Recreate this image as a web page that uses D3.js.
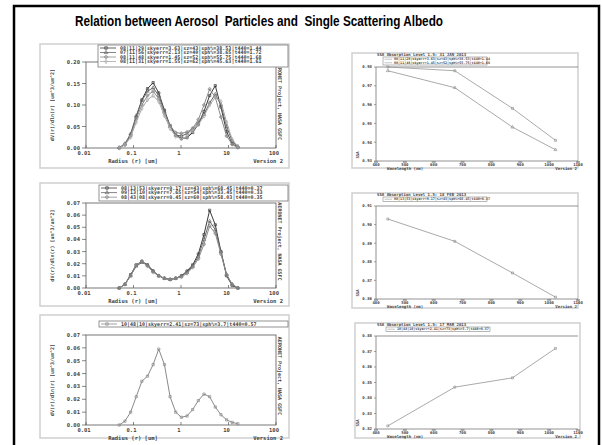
<!DOCTYPE html>
<html>
<head>
<meta charset="utf-8">
<script src="https://cdn.jsdelivr.net/npm/d3@7"></script>
<style>
  body { margin: 0; background: #fff; }
  svg { display: block; }
  .mono { font-family: "DejaVu Sans Mono", monospace; font-weight: bold; fill: #444; }
</style>
</head>
<body>
<svg id="chart" width="602" height="445"></svg>
<script>
// ---- data ----
var title = 'Relation between Aerosol  Particles and  Single Scattering Albedo';

// AERONET radius bins (um)
var radius = [0.050, 0.066, 0.087, 0.114, 0.150, 0.197, 0.259, 0.340, 0.448, 0.589, 0.774,
              1.018, 1.339, 1.761, 2.316, 3.046, 4.006, 5.269, 6.929, 9.113, 11.984, 15.761];
var radiusTicks = [0.01, 0.1, 1, 10, 100];

// panel 1 : four size distributions
var psd1_a = [0.000, 0.008, 0.030, 0.072, 0.112, 0.138, 0.152, 0.128, 0.088, 0.052, 0.030, 0.022, 0.024, 0.036, 0.055, 0.085, 0.122, 0.145, 0.095, 0.038, 0.010, 0.002];
var psd1_b = [0.001, 0.010, 0.033, 0.075, 0.110, 0.132, 0.140, 0.122, 0.085, 0.050, 0.030, 0.028, 0.033, 0.044, 0.058, 0.078, 0.105, 0.125, 0.100, 0.050, 0.016, 0.003];
var psd1_c = [0.000, 0.008, 0.028, 0.068, 0.100, 0.122, 0.132, 0.115, 0.080, 0.052, 0.036, 0.034, 0.037, 0.046, 0.066, 0.100, 0.137, 0.118, 0.072, 0.028, 0.008, 0.001];
var psd1_d = [0.000, 0.007, 0.025, 0.060, 0.092, 0.112, 0.122, 0.108, 0.075, 0.045, 0.027, 0.021, 0.026, 0.040, 0.054, 0.074, 0.100, 0.118, 0.108, 0.060, 0.020, 0.004];
var psd1_labels = ['08|11|29|skyerr=3.63|sz=43|sph%=38.53|t440=1.44',
                   '07|11|56|skyerr=2.13|sz=40|sph%=38.65|t440=1.72',
                   '08|11|48|skyerr=1.45|sz=52|sph%=55.75|t440=1.68',
                   '08|11|31|skyerr=1.55|sz=62|sph%=45.63|t440=1.61'];
var psd1_ticks = [0, 0.05, 0.10, 0.15, 0.20];

// panel 2 : three size distributions
var psd2_a = [0.000, 0.003, 0.011, 0.019, 0.022, 0.019, 0.014, 0.010, 0.008, 0.007, 0.008, 0.010, 0.014, 0.019, 0.028, 0.044, 0.064, 0.052, 0.030, 0.010, 0.002, 0.000];
var psd2_b = [0.000, 0.003, 0.010, 0.018, 0.021, 0.019, 0.014, 0.010, 0.008, 0.007, 0.008, 0.010, 0.013, 0.018, 0.026, 0.040, 0.055, 0.048, 0.030, 0.011, 0.003, 0.000];
var psd2_c = [0.000, 0.003, 0.010, 0.019, 0.022, 0.018, 0.013, 0.010, 0.008, 0.007, 0.008, 0.009, 0.012, 0.017, 0.024, 0.036, 0.051, 0.045, 0.028, 0.011, 0.003, 0.000];
var psd2_labels = ['08|13|53|skyerr=9.17|sz=43|sph%=68.45|t440=0.37',
                   '09|13|10|skyerr=7.65|sz=54|sph%=33.45|t440=0.33',
                   '08|43|08|skyerr=9.45|sz=60|sph%=58.03|t440=0.35'];
var psd2_ticks = [0, 0.01, 0.02, 0.03, 0.04, 0.05, 0.06, 0.07];

// panel 3 : one size distribution
var psd3_a = [0.000, 0.003, 0.010, 0.022, 0.034, 0.038, 0.047, 0.059, 0.047, 0.022, 0.010, 0.006, 0.007, 0.012, 0.019, 0.024, 0.022, 0.014, 0.008, 0.004, 0.002, 0.001];
var psd3_labels = ['10|48|10|skyerr=2.41|sz=73|sph%=3.7|t440=0.57'];
var psd3_ticks = [0, 0.01, 0.02, 0.03, 0.04, 0.05, 0.06, 0.07];

// single scattering albedo panels
var wavelength = [441, 673, 873, 1022];
var wlTicks = [400, 500, 600, 700, 800, 900, 1000, 1100];
var ssa1_a = [0.980, 0.978, 0.958, 0.941];
var ssa1_b = [0.978, 0.969, 0.948, 0.936];
var ssa1_ticks = [0.93, 0.94, 0.95, 0.96, 0.97, 0.98];
var ssa2_a = [0.903, 0.891, 0.874, 0.861];
var ssa2_ticks = [0.86, 0.87, 0.88, 0.89, 0.90, 0.91];
var ssa3_a = [0.822, 0.847, 0.853, 0.872];
var ssa3_ticks = [0.82, 0.83, 0.84, 0.85, 0.86, 0.87, 0.88];
var ssa1_title = 'SSA Absorption Level 1.5: 31 JAN 2013';
var ssa2_title = 'SSA Absorption Level 1.5: 18 FEB 2013';
var ssa3_title = 'SSA Absorption Level 1.5: 17 MAR 2013';

// ---- drawing ----
var svg = d3.select('#chart');

// slide frame and heading
svg.append('rect')
    .attr('x', 14).attr('y', 6).attr('width', 585).attr('height', 470)
    .attr('fill', 'none').attr('stroke', '#000').attr('stroke-width', 2.5);

svg.append('text')
    .attr('x', 259).attr('y', 26)
    .attr('text-anchor', 'middle')
    .style('white-space', 'pre')
    .attr('font-family', '"Liberation Sans Narrow", "Arial Narrow", "Liberation Sans", Arial, sans-serif')
    .attr('font-weight', 'bold').attr('font-size', 14)
    .attr('textLength', 368).attr('lengthAdjust', 'spacingAndGlyphs')
    .text(title);

var symbols = [d3.symbolSquare, d3.symbolTriangle, d3.symbolCross, d3.symbolDiamond];
var greys = ['#3a3a3a', '#666', '#8a8a8a', '#a8a8a8'];

function psdPanel(cfg) {
  var g = svg.append('g');

  // picture frame
  g.append('rect')
      .attr('x', cfg.frame[0]).attr('y', cfg.frame[1])
      .attr('width', cfg.frame[2]).attr('height', cfg.frame[3])
      .attr('fill', '#fff').attr('stroke', '#cfcfcf').attr('stroke-width', 1.5);

  var x = d3.scaleLog().domain([0.01, 100]).range([86, 276]);
  var y = d3.scaleLinear().domain([0, cfg.yMax]).range([cfg.bottom, cfg.top]);

  g.append('rect')
      .attr('x', x.range()[0]).attr('y', cfg.top)
      .attr('width', x.range()[1] - x.range()[0]).attr('height', cfg.bottom - cfg.top)
      .attr('fill', 'none').attr('stroke', '#555').attr('stroke-width', 0.8);

  // y ticks + labels
  g.selectAll('.yt').data(cfg.ticks).enter().append('line')
      .attr('x1', 82).attr('x2', 86)
      .attr('y1', function(d) { return y(d); }).attr('y2', function(d) { return y(d); })
      .attr('stroke', '#555').attr('stroke-width', 0.7);
  g.selectAll('.yl').data(cfg.ticks).enter().append('text')
      .attr('class', 'mono').attr('font-size', 5.5)
      .attr('x', 80).attr('y', function(d) { return y(d) + 2; })
      .attr('text-anchor', 'end')
      .text(d3.format('.2f'));

  // x ticks + labels
  g.selectAll('.xt').data(radiusTicks).enter().append('line')
      .attr('x1', function(d) { return x(d); }).attr('x2', function(d) { return x(d); })
      .attr('y1', cfg.bottom).attr('y2', cfg.bottom - 3)
      .attr('stroke', '#555').attr('stroke-width', 0.7);
  g.selectAll('.xl').data(radiusTicks).enter().append('text')
      .attr('class', 'mono').attr('font-size', 5.5)
      .attr('x', function(d) { return x(d) - 2; }).attr('y', cfg.bottom + 7)
      .attr('text-anchor', 'middle')
      .text(function(d) { return d < 1 ? d3.format('.2~f')(d) : d; });

  g.append('text').attr('class', 'mono').attr('font-size', 5.5)
      .attr('x', 133).attr('y', cfg.bottom + 15).attr('text-anchor', 'middle')
      .text('Radius (r) [um]');
  g.append('text').attr('class', 'mono').attr('font-size', 5.5)
      .attr('x', 283).attr('y', cfg.bottom + 15).attr('text-anchor', 'end')
      .text('Version 2');

  var mid = (cfg.top + cfg.bottom) / 2;
  g.append('text').attr('class', 'mono').attr('font-size', 5)
      .attr('transform', 'translate(54,' + mid + ') rotate(-90)')
      .attr('text-anchor', 'middle')
      .text('dV(r)/dln(r) [um^3/um^2]');
  g.append('text').attr('class', 'mono').attr('font-size', 5)
      .attr('transform', 'translate(278,' + (mid - 4) + ') rotate(90)')
      .attr('text-anchor', 'middle')
      .text('AERONET Project, NASA GSFC');

  var line = d3.line()
      .x(function(d, i) { return x(radius[i]); })
      .y(function(d) { return y(d); });

  cfg.series.forEach(function(s, k) {
    var col = cfg.series.length === 1 ? '#8a8a8a' : greys[k];
    g.append('path').datum(s)
        .attr('d', line)
        .attr('fill', 'none').attr('stroke', col).attr('stroke-width', 1);
    g.selectAll('.pt' + k).data(s).enter().append('path')
        .attr('transform', function(d, i) { return 'translate(' + x(radius[i]) + ',' + y(d) + ')'; })
        .attr('d', d3.symbol().type(symbols[k]).size(5))
        .attr('fill', 'none').attr('stroke', col).attr('stroke-width', 0.7);
  });

  // legend box
  var lb = cfg.legend;
  g.append('rect')
      .attr('x', lb[0]).attr('y', lb[1]).attr('width', lb[2]).attr('height', lb[3])
      .attr('fill', '#fff').attr('stroke', '#666').attr('stroke-width', 0.7);
  cfg.labels.forEach(function(t, k) {
    var ry = lb[1] + 3 + k * lb[4];
    var col = cfg.series.length === 1 ? '#8a8a8a' : greys[k];
    g.append('line')
        .attr('x1', lb[0] + 2).attr('x2', lb[0] + 18)
        .attr('y1', ry).attr('y2', ry)
        .attr('stroke', col).attr('stroke-width', 0.8);
    g.append('path')
        .attr('transform', 'translate(' + (lb[0] + 8) + ',' + ry + ')')
        .attr('d', d3.symbol().type(symbols[k]).size(6))
        .attr('fill', 'none').attr('stroke', col).attr('stroke-width', 0.7);
    g.append('text').attr('class', 'mono').attr('font-size', 5)
        .attr('x', lb[0] + 22).attr('y', ry + 1.7)
        .text(t);
  });
}

function ssaPanel(cfg) {
  var g = svg.append('g');

  g.append('rect')
      .attr('x', cfg.frame[0]).attr('y', cfg.frame[1])
      .attr('width', cfg.frame[2]).attr('height', cfg.frame[3])
      .attr('fill', '#fff').attr('stroke', '#cfcfcf').attr('stroke-width', 1.5);

  var x = d3.scaleLinear().domain([400, 1100]).range([376, 578]);
  var y = d3.scaleLinear().domain(d3.extent(cfg.ticks)).range([cfg.bottom, cfg.top]);

  // axes box (right side is cut by the picture edge)
  g.append('path')
      .attr('d', 'M' + x.range()[1] + ',' + cfg.top + 'H' + x.range()[0] + 'V' + cfg.bottom + 'H' + x.range()[1])
      .attr('fill', 'none').attr('stroke', '#666').attr('stroke-width', 0.7);

  g.selectAll('.yl').data(cfg.ticks).enter().append('text')
      .attr('class', 'mono').attr('font-size', 4)
      .attr('x', 372).attr('y', function(d) { return y(d) + 1.4; })
      .attr('text-anchor', 'end')
      .text(d3.format('.2f'));
  g.selectAll('.yt').data(cfg.ticks).enter().append('line')
      .attr('x1', 374).attr('x2', 376)
      .attr('y1', function(d) { return y(d); }).attr('y2', function(d) { return y(d); })
      .attr('stroke', '#666').attr('stroke-width', 0.6);

  g.selectAll('.xt').data(wlTicks).enter().append('line')
      .attr('x1', function(d) { return x(d) - 2; }).attr('x2', function(d) { return x(d) + 2; })
      .attr('y1', cfg.bottom + 1).attr('y2', cfg.bottom + 1)
      .attr('stroke', '#555').attr('stroke-width', 0.9);
  g.selectAll('.xl').data(wlTicks).enter().append('text')
      .attr('class', 'mono').attr('font-size', 4)
      .attr('x', function(d) { return x(d); }).attr('y', cfg.bottom + 5)
      .attr('text-anchor', 'middle')
      .text(function(d) { return d; });

  g.append('text').attr('class', 'mono').attr('font-size', 4)
      .attr('x', 387).attr('y', cfg.bottom + 8.5)
      .text('Wavelength (nm)');
  g.append('text').attr('class', 'mono').attr('font-size', 4)
      .attr('x', 577).attr('y', cfg.bottom + 8.5).attr('text-anchor', 'end')
      .text('Version 2');
  g.append('text').attr('class', 'mono').attr('font-size', 4)
      .attr('transform', 'translate(359,' + (cfg.bottom - 6) + ') rotate(-90)')
      .attr('text-anchor', 'middle')
      .text('SSA');

  g.append('text').attr('class', 'mono').attr('font-size', 4)
      .attr('x', 377).attr('y', cfg.frame[1] + 3)
      .text(cfg.title);

  var line = d3.line()
      .x(function(d, i) { return x(wavelength[i]); })
      .y(function(d) { return y(d); });

  cfg.series.forEach(function(s, k) {
    g.append('path').datum(s)
        .attr('d', line)
        .attr('fill', 'none').attr('stroke', '#a0a0a0').attr('stroke-width', 0.9);
    g.selectAll('.pt' + k).data(s).enter().append('path')
        .attr('transform', function(d, i) { return 'translate(' + x(wavelength[i]) + ',' + y(d) + ')'; })
        .attr('d', d3.symbol().type(symbols[k]).size(4))
        .attr('fill', 'none').attr('stroke', '#888').attr('stroke-width', 0.6);
  });

  var lb = cfg.legend;
  g.append('rect')
      .attr('x', lb[0]).attr('y', lb[1]).attr('width', lb[2]).attr('height', lb[3])
      .attr('fill', '#fff').attr('stroke', '#888').attr('stroke-width', 0.6);
  cfg.labels.forEach(function(t, k) {
    var ry = lb[1] + 2.2 + k * 3.6;
    g.append('line')
        .attr('x1', lb[0] + 1.5).attr('x2', lb[0] + 9)
        .attr('y1', ry).attr('y2', ry)
        .attr('stroke', '#999').attr('stroke-width', 0.6);
    g.append('text').attr('class', 'mono').attr('font-size', 3.4)
        .attr('x', lb[0] + 11).attr('y', ry + 1.2)
        .text(t);
  });
}

psdPanel({
  frame: [40, 44, 249, 124], top: 62, bottom: 148, yMax: 0.20, ticks: psd1_ticks,
  series: [psd1_a, psd1_b, psd1_c, psd1_d], labels: psd1_labels,
  legend: [98, 45, 190, 22, 4.5]
});
psdPanel({
  frame: [40, 183, 249, 123], top: 203, bottom: 288, yMax: 0.07, ticks: psd2_ticks,
  series: [psd2_a, psd2_b, psd2_c], labels: psd2_labels,
  legend: [99, 185, 189, 16, 4.6]
});
psdPanel({
  frame: [40, 315, 249, 123], top: 335, bottom: 425, yMax: 0.07, ticks: psd3_ticks,
  series: [psd3_a], labels: psd3_labels,
  legend: [99, 321, 189, 6, 0]
});

ssaPanel({
  frame: [352, 53, 226, 115], top: 67, bottom: 161, ticks: ssa1_ticks,
  series: [ssa1_a, ssa1_b], title: ssa1_title,
  labels: [psd1_labels[0], psd1_labels[2]],
  legend: [383, 57, 104, 8]
});
ssaPanel({
  frame: [352, 193, 226, 115], top: 206, bottom: 299, ticks: ssa2_ticks,
  series: [ssa2_a], title: ssa2_title,
  labels: [psd2_labels[0]],
  legend: [383, 197, 104, 4.5]
});
ssaPanel({
  frame: [355, 323, 225, 115], top: 336, bottom: 429, ticks: ssa3_ticks,
  series: [ssa3_a], title: ssa3_title,
  labels: [psd3_labels[0]],
  legend: [386, 327, 104, 4.5]
});
</script>
</body>
</html>
